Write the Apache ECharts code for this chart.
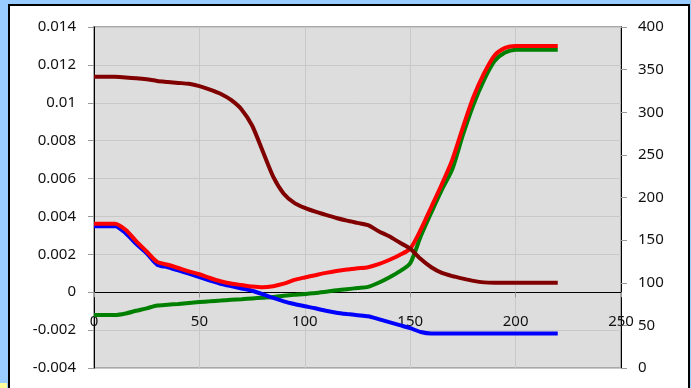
<!DOCTYPE html>
<html>
<head>
<meta charset="utf-8">
<script src="https://cdn.jsdelivr.net/npm/echarts@6/dist/echarts.min.js"></script>
<style>
  html, body { margin: 0; padding: 0; background: #99CCFF; }
  #frame {
    position: absolute; left: 8px; top: 4px; width: 678px; height: 400px;
    background: #ffffff; border: 2px solid #000000;
  }
  #corner { position: absolute; left: 0; top: 383px; width: 7px; height: 5px; background: #FFFF99; }
  #chart { position: absolute; left: 0; top: 0; width: 691px; height: 388px; }
</style>
</head>
<body>
<div id="frame"></div>
<div id="corner"></div>
<div id="chart"></div>
<script>
// x positions shared by all four curves
const xValues = [
  0, 5, 10, 15, 20, 25, 30, 35, 40, 45,
  50, 55, 60, 65, 70, 75, 80, 85, 90, 95,
  100, 105, 110, 115, 120, 125, 130, 135, 140, 145,
  150, 155, 160, 165, 170, 175, 180, 185, 190, 195,
  200, 205, 210, 215, 220
]

const maroonValues = [
  0.01138, 0.01138, 0.01137, 0.01134, 0.01130, 0.01124, 0.01115, 0.01110, 0.01105, 0.01100,
  0.01088, 0.01070, 0.01048, 0.01015, 0.00965, 0.00880, 0.00745, 0.00610, 0.00520, 0.00472,
  0.00445, 0.00425, 0.00408, 0.00392, 0.00378, 0.00366, 0.00354, 0.00322, 0.00295, 0.00262,
  0.00230, 0.00175, 0.00132, 0.00102, 0.00085, 0.00072, 0.00060, 0.00052, 0.00050, 0.00050,
  0.00050, 0.00050, 0.00050, 0.00050, 0.00050
]

const redValues = [
  0.00362, 0.00362, 0.00362, 0.00330, 0.00270, 0.00215, 0.00160, 0.00145, 0.00128, 0.00110,
  0.00095, 0.00075, 0.00058, 0.00046, 0.00038, 0.00030, 0.00026, 0.00032, 0.00045, 0.00065,
  0.00078, 0.00090, 0.00102, 0.00112, 0.00120, 0.00126, 0.00132, 0.00148, 0.00170, 0.00196,
  0.00230, 0.00330, 0.00450, 0.00570, 0.00700, 0.00870, 0.01030, 0.01155, 0.01250, 0.01290,
  0.01300, 0.01300, 0.01300, 0.01300, 0.01300
]

const blueValues = [
  0.00348, 0.00348, 0.00348, 0.00312, 0.00255, 0.00205, 0.00145, 0.00132, 0.00115, 0.00098,
  0.00080, 0.00062, 0.00045, 0.00032, 0.00020, 0.00008, -0.00010, -0.00030, -0.00048, -0.00062,
  -0.00074, -0.00085, -0.00098, -0.00108, -0.00115, -0.00121, -0.00127, -0.00142, -0.00158, -0.00174,
  -0.00190, -0.00210, -0.00218, -0.00218, -0.00218, -0.00218, -0.00218, -0.00218, -0.00218, -0.00218,
  -0.00218, -0.00218, -0.00218, -0.00218, -0.00218
]

const greenValues = [
  -0.00120, -0.00120, -0.00120, -0.00112, -0.00098, -0.00085, -0.00070, -0.00066, -0.00062, -0.00057,
  -0.00052, -0.00048, -0.00044, -0.00040, -0.00037, -0.00033, -0.00029, -0.00025, -0.00019, -0.00014,
  -0.00010, -0.00004, 0.00002, 0.00010, 0.00016, 0.00022, 0.00028, 0.00050, 0.00078, 0.00110,
  0.00153, 0.00295, 0.00420, 0.00540, 0.00650, 0.00830, 0.00990, 0.01120, 0.01220, 0.01265,
  0.01280, 0.01280, 0.01280, 0.01280, 0.01280
]

// axis ranges
const xRange = { min: 0, max: 250, interval: 50 }
const leftRange = { min: -0.004, max: 0.014, interval: 0.002 }
const rightRange = { min: 0, max: 400, interval: 50 }

const font = 'Noto Sans'
const gridColor = '#C8C8C8'

// plot box in pixels; the x axis sits on the left axis' zero line
const plot = { left: 94, top: 27, width: 527, height: 341 }
const zeroOffset = -plot.height * (0 - leftRange.min) / (leftRange.max - leftRange.min)

function pairs(values) {
  return xValues.map((x, i) => [x, values[i]])
}

function lineSeries(name, values, color) {
  return {
    name,
    type: 'line',
    data: pairs(values),
    yAxisIndex: 0,
    symbol: 'none',
    smooth: 0.25,
    lineStyle: { color, width: 4 }
  }
}

const chart = echarts.init(document.getElementById('chart'), null, { renderer: 'canvas' })

chart.setOption({
  animation: false,
  backgroundColor: 'transparent',
  grid: {
    ...plot,
    outerBoundsMode: 'none',
    containLabel: false,
    show: true,
    backgroundColor: '#DDDDDD',
    borderColor: '#A8A8A8',
    borderWidth: 2
  },
  xAxis: {
    type: 'value',
    position: 'bottom',
    offset: zeroOffset,
    ...xRange,
    axisLine: { onZero: false, lineStyle: { color: '#000000', width: 1 } },
    axisTick: { show: true, length: 5, lineStyle: { color: '#999999' } },
    axisLabel: {
      margin: 22,
      color: '#111111',
      fontFamily: font,
      fontSize: 15,
      showMinLabel: true,
      showMaxLabel: true,
      hideOverlap: false
    },
    splitLine: { show: true, lineStyle: { color: gridColor, width: 1 } }
  },
  yAxis: [
    {
      type: 'value',
      position: 'left',
      ...leftRange,
      axisLine: { show: true, onZero: false, lineStyle: { color: '#000000', width: 1 } },
      axisTick: { show: true, length: 6, lineStyle: { color: '#999999' } },
      axisLabel: {
        margin: 18,
        color: '#111111',
        fontFamily: font,
        fontSize: 15,
        formatter: v => String(parseFloat(v.toFixed(3)))
      },
      splitLine: { show: true, lineStyle: { color: gridColor, width: 1 } }
    },
    {
      type: 'value',
      position: 'right',
      ...rightRange,
      axisLine: { show: true, onZero: false, lineStyle: { color: '#000000', width: 1 } },
      axisTick: { show: true, length: 6, lineStyle: { color: '#999999' } },
      axisLabel: {
        margin: 17,
        color: '#111111',
        fontFamily: font,
        fontSize: 15
      },
      splitLine: { show: false }
    }
  ],
  series: [
    lineSeries('green', greenValues, '#008000'),
    lineSeries('blue', blueValues, '#0000FF'),
    lineSeries('red', redValues, '#FF0000'),
    lineSeries('maroon', maroonValues, '#800000')
  ]
})
</script>
</body>
</html>
